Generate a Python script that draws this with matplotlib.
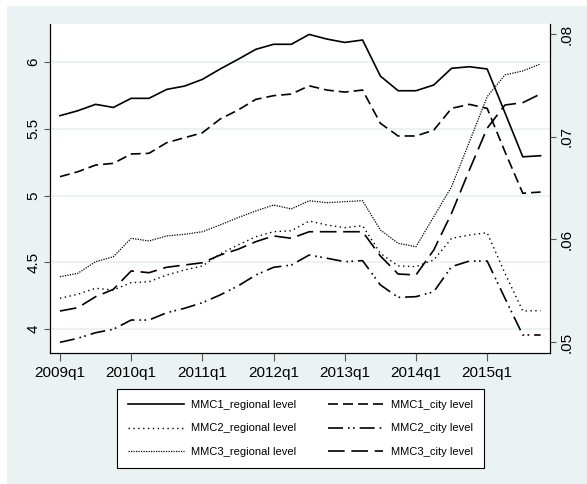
import numpy as np
import matplotlib
matplotlib.use("Agg")
import matplotlib.pyplot as plt
from matplotlib.patches import Rectangle

plt.rcParams['font.family'] = ['Liberation Sans', 'DejaVu Sans']

# quarterly, 2009q1 .. 2015q4
quarters = [f"{y}q{q}" for y in range(2009, 2016) for q in range(1, 5)]
tick_labels = ['2009q1', '2010q1', '2011q1', '2012q1', '2013q1', '2014q1', '2015q1']

# left axis
mmc1_regional = [5.598, 5.635, 5.683, 5.660, 5.728, 5.728, 5.795, 5.820, 5.870, 5.948,
                 6.020, 6.095, 6.133, 6.133, 6.207, 6.172, 6.147, 6.165, 5.895, 5.785,
                 5.785, 5.828, 5.953, 5.965, 5.948, 5.620, 5.290, 5.298]
mmc1_city = [5.141, 5.178, 5.228, 5.241, 5.311, 5.316, 5.396, 5.433, 5.470, 5.573,
             5.640, 5.720, 5.748, 5.760, 5.822, 5.790, 5.775, 5.790, 5.541, 5.446,
             5.446, 5.490, 5.653, 5.683, 5.653, 5.328, 5.017, 5.026]
mmc2_regional = [4.230, 4.260, 4.305, 4.292, 4.347, 4.354, 4.404, 4.442, 4.472, 4.562,
                 4.629, 4.691, 4.729, 4.736, 4.809, 4.779, 4.759, 4.774, 4.567, 4.472,
                 4.467, 4.517, 4.679, 4.704, 4.721, 4.417, 4.135, 4.137]
mmc2_city = [3.900, 3.930, 3.972, 3.998, 4.067, 4.067, 4.122, 4.155, 4.197, 4.255,
             4.322, 4.404, 4.462, 4.479, 4.554, 4.530, 4.504, 4.512, 4.330, 4.237,
             4.242, 4.279, 4.467, 4.509, 4.509, 4.230, 3.955, 3.955]
# right axis
mmc3_regional = [0.05636, 0.05669, 0.05782, 0.05831, 0.06010, 0.05984, 0.06033, 0.06049,
                 0.06074, 0.06140, 0.06211, 0.06276, 0.06334, 0.06296, 0.06376, 0.06357,
                 0.06367, 0.06376, 0.06091, 0.05961, 0.05928, 0.06220, 0.06513, 0.06948,
                 0.07389, 0.07601, 0.07640, 0.07708]
mmc3_city = [0.05302, 0.05334, 0.05441, 0.05513, 0.05692, 0.05675, 0.05728, 0.05750,
             0.05772, 0.05847, 0.05903, 0.05977, 0.06033, 0.06010, 0.06074, 0.06074,
             0.06074, 0.06074, 0.05838, 0.05662, 0.05653, 0.05896, 0.06254, 0.06675,
             0.07082, 0.07308, 0.07331, 0.07416]

left_ticks = [4, 4.5, 5, 5.5, 6]
left_labels = ['4', '4.5', '5', '5.5', '6']
right_ticks = [0.05, 0.06, 0.07, 0.08]
right_labels = ['.05', '.06', '.07', '.08']

bg = '#EAF2F3'
x = np.arange(len(quarters))

fig = plt.figure(figsize=(5.87, 4.84), dpi=100)
fig.patches.append(Rectangle((7/587, 0), 1, 1 - 6/484, transform=fig.transFigure,
                             facecolor=bg, edgecolor='none', zorder=-10))
ax1 = fig.add_axes([50/587, 1 - 353/484, 500/587, 329/484])
ax2 = ax1.twinx()

l1, = ax1.plot(x, mmc1_regional, color='black', lw=1.2, ls='-', label='MMC1_regional level')
l2, = ax1.plot(x, mmc1_city, color='black', lw=1.2, ls=(0, (6, 3)), label='MMC1_city level')
l3, = ax1.plot(x, mmc2_regional, color='black', lw=1.0, ls=(0, (1, 2.5)), label='MMC2_regional level')
l4, = ax1.plot(x, mmc2_city, color='black', lw=1.2, ls=(0, (9, 3, 1, 2, 1, 3)), label='MMC2_city level')
l5, = ax2.plot(x, mmc3_regional, color='black', lw=0.9, ls=(0, (1, 1)), label='MMC3_regional level')
l6, = ax2.plot(x, mmc3_city, color='black', lw=1.2, ls=(0, (10, 4)), label='MMC3_city level')

ax1.set_xlim(-0.56, 27.53)
ax1.set_ylim(3.82, 6.285)
ax2.set_ylim(0.04893, 0.08097)

ax1.set_xticks(x[::4])
ax1.set_xticklabels(tick_labels, fontsize=11)
ax1.set_yticks(left_ticks)
ax1.set_yticklabels(left_labels, fontsize=11, rotation=90, va='center')
ax2.set_yticks(right_ticks)
ax2.set_yticklabels(right_labels, fontsize=11, rotation=90, va='center')

ax1.grid(axis='y', color=bg, lw=1.5)
ax1.set_axisbelow(True)
for a in (ax1, ax2):
    a.spines['top'].set_visible(False)
    for s in ('left', 'right', 'bottom'):
        a.spines[s].set_color('black')
        a.spines[s].set_linewidth(0.8)
ax1.tick_params(axis='x', length=6, color='#555555', pad=3)
ax1.tick_params(axis='y', length=4, color='#555555', pad=3)
ax2.tick_params(axis='y', length=4, color='#555555', pad=3)

handles = [l1, l3, l5, l2, l4, l6]
leg = fig.legend(handles, [h.get_label() for h in handles], ncol=2,
                 loc='upper left', bbox_to_anchor=(117/587, 1 - 389/484),
                 fontsize=8, handlelength=5, handletextpad=0.7, columnspacing=2.8,
                 labelspacing=1.2, borderaxespad=0, borderpad=1.0,
                 fancybox=False, framealpha=1, edgecolor='black')
leg.get_frame().set_linewidth(0.8)

fig.savefig('out.png', dpi=100)
